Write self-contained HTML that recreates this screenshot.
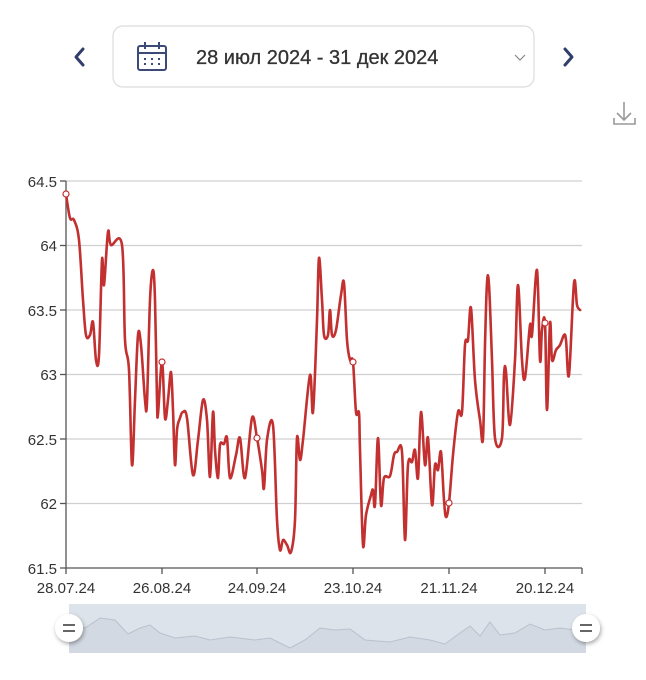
<!DOCTYPE html>
<html><head><meta charset="utf-8"><style>
html,body{margin:0;padding:0;background:#fff;width:646px;height:680px;overflow:hidden;font-family:"Liberation Sans","DejaVu Sans",sans-serif;}
</style></head><body>
<svg width="646" height="680" viewBox="0 0 646 680" xmlns="http://www.w3.org/2000/svg">
<defs><filter id="sh" x="-50%" y="-50%" width="200%" height="200%"><feDropShadow dx="1" dy="2" stdDeviation="2" flood-color="#000" flood-opacity="0.35"/></filter></defs>
<path d="M83 49 L76 57 L83 65" fill="none" stroke="#2f3e6b" stroke-width="3" stroke-linecap="round" stroke-linejoin="round"/>
<path d="M565 49 L572 57 L565 65" fill="none" stroke="#2f3e6b" stroke-width="3" stroke-linecap="round" stroke-linejoin="round"/>
<rect x="113" y="26" width="421" height="61" rx="10" fill="#fff" stroke="#dcdcdc" stroke-width="1.2"/>
<g stroke="#3d4a75" stroke-width="2" fill="none">
<rect x="138" y="46" width="28" height="24" rx="2"/>
<line x1="138" y1="53" x2="166" y2="53"/>
<line x1="145" y1="42" x2="145" y2="49"/><line x1="159" y1="42" x2="159" y2="49"/>
</g>
<g fill="#3d4a75"><rect x="144" y="58" width="2" height="2"/><rect x="151" y="58" width="2" height="2"/><rect x="158" y="58" width="2" height="2"/><rect x="144" y="63" width="2" height="2"/><rect x="151" y="63" width="2" height="2"/><rect x="158" y="63" width="2" height="2"/></g>
<text x="196" y="64" font-size="20" fill="#333" stroke="#333" stroke-width="0.3">28 июл 2024 - 31 дек 2024</text>
<path d="M515 55 L520 60 L525 55" fill="none" stroke="#888" stroke-width="1.2"/>
<g stroke="#999" stroke-width="1.6" fill="none"><line x1="624" y1="102" x2="624" y2="120"/><path d="M617 113 L624 120 L631 113"/><path d="M614 118 V124 H635 V118"/></g>
<g stroke="#d0d0d0" stroke-width="1.2">
<line x1="66" y1="181" x2="582" y2="181"/><line x1="66" y1="245.5" x2="582" y2="245.5"/><line x1="66" y1="310" x2="582" y2="310"/><line x1="66" y1="374.5" x2="582" y2="374.5"/><line x1="66" y1="439" x2="582" y2="439"/><line x1="66" y1="503.5" x2="582" y2="503.5"/>
</g>
<g stroke="#555" stroke-width="1.3">
<line x1="66" y1="181" x2="66" y2="568"/><line x1="60" y1="181" x2="66" y2="181"/><line x1="60" y1="245.5" x2="66" y2="245.5"/><line x1="60" y1="310" x2="66" y2="310"/><line x1="60" y1="374.5" x2="66" y2="374.5"/><line x1="60" y1="439" x2="66" y2="439"/><line x1="60" y1="503.5" x2="66" y2="503.5"/><line x1="60" y1="568" x2="582" y2="568"/>
<line x1="66" y1="568" x2="66" y2="574"/><line x1="162" y1="568" x2="162" y2="574"/><line x1="257" y1="568" x2="257" y2="574"/><line x1="353" y1="568" x2="353" y2="574"/><line x1="449" y1="568" x2="449" y2="574"/><line x1="545" y1="568" x2="545" y2="574"/><line x1="582" y1="568" x2="582" y2="574"/>
</g>
<g font-size="15" fill="#333" text-anchor="end">
<text x="57" y="187">64.5</text><text x="57" y="251">64</text><text x="57" y="316">63.5</text><text x="57" y="380">63</text><text x="57" y="445">62.5</text><text x="57" y="509">62</text><text x="57" y="574">61.5</text>
</g>
<g font-size="15" fill="#333" text-anchor="middle">
<text x="66" y="593">28.07.24</text><text x="162" y="593">26.08.24</text><text x="257" y="593">24.09.24</text><text x="353" y="593">23.10.24</text><text x="449" y="593">21.11.24</text><text x="545" y="593">20.12.24</text>
</g>
<polyline id="ser" fill="none" stroke="#c23030" stroke-width="2.6" stroke-linejoin="round" stroke-linecap="round" points="66,194 70,218 74,220 79,240 83,300 86,335 90,335 93,322 96,360 99,355 102,260 104,285 108,232 111,245 122,245 125,340 129,370 132,465 135,400 138,335 141,345 145,400 147,402 150,300 153,270 155,300 157,400 158,414 162,362 165,418 168,400 171,372 173,410 175,465 177,430 180,418 183,412 187,418 193,475 198,440 203,400 207,420 210,477 213,412 215,450 218,478 220,445 224,444 227,438 230,478 236,455 240,438 245,478 252,418 257,438 262,470 264,488 267,440 273,425 277,520 280,550 283,540 287,545 291,552 295,520 297,438 300,460 303,440 310,375 313,412 317,320 319,258 322,300 324,335 328,335 330,310 332,335 336,330 341,295 344,283 347,340 350,360 353,362 356,412 359,413 360,450 363,545 366,515 371,495 373,490 375,505 378,438 381,505 384,478 390,476 394,455 397,452 402,452 405,540 408,465 412,462 415,450 418,478 421,412 425,465 428,438 432,505 435,465 438,470 441,452 444,500 446,517 449,503 453,455 458,412 462,412 465,345 468,340 471,308 475,380 480,420 483,438 485,345 487,283 489,285 492,360 495,438 502,438 504,375 506,372 510,425 515,360 518,285 522,360 525,378 530,325 532,335 537,270 540,360 542,330 545,323 547,410 550,323 552,360 556,350 560,345 564,335 566,340 569,375 574,283 577,305 580,310"/>
<g fill="#fff" stroke="#c23030" stroke-width="1.2">
<circle cx="66" cy="194" r="3"/><circle cx="162" cy="362" r="3"/><circle cx="257" cy="438" r="3"/><circle cx="353" cy="362" r="3"/><circle cx="449" cy="503" r="3"/><circle cx="545" cy="323" r="3"/>
</g>
<rect x="69" y="604" width="517" height="49" fill="#dde3eb"/>
<polygon fill="#d2d9e3" stroke="none" points="69,653 69,627 85,628 100,618 115,620 128,634 140,628 150,625 160,633 175,638 195,636 210,640 230,637 255,640 270,638 290,648 305,640 320,628 335,630 350,629 365,640 390,642 410,637 430,640 445,644 460,633 470,626 480,636 490,622 500,635 515,633 530,624 545,630 560,628 575,630 586,628 586,653"/>
<polyline fill="none" stroke="#b9c1cc" stroke-width="1" points="69,627 85,628 100,618 115,620 128,634 140,628 150,625 160,633 175,638 195,636 210,640 230,637 255,640 270,638 290,648 305,640 320,628 335,630 350,629 365,640 390,642 410,637 430,640 445,644 460,633 470,626 480,636 490,622 500,635 515,633 530,624 545,630 560,628 575,630 586,628"/>
<g filter="url(#sh)"><circle cx="69" cy="628" r="14" fill="#fff"/><circle cx="586" cy="628" r="14" fill="#fff"/></g>
<g stroke="#666" stroke-width="2"><line x1="63" y1="625" x2="75" y2="625"/><line x1="63" y1="631" x2="75" y2="631"/><line x1="580" y1="625" x2="592" y2="625"/><line x1="580" y1="631" x2="592" y2="631"/></g>
</svg>
<script>
(function(){try{
var pl=document.getElementById('ser');
var p=pl.getAttribute('points').trim().split(/\s+/).map(function(s){var a=s.split(',');return [+a[0],+a[1]];});
var d='M'+p[0][0]+' '+p[0][1];
for(var i=0;i<p.length-1;i++){
var p0=p[i-1]||p[i],p1=p[i],p2=p[i+1],p3=p[i+2]||p2,t=0.17;
var c1x=p1[0]+(p2[0]-p0[0])*t,c1y=p1[1]+(p2[1]-p0[1])*t;
var c2x=p2[0]-(p3[0]-p1[0])*t,c2y=p2[1]-(p3[1]-p1[1])*t;
if(c1x>p2[0])c1x=p2[0];if(c2x<p1[0])c2x=p1[0];
d+=' C'+c1x.toFixed(1)+' '+c1y.toFixed(1)+' '+c2x.toFixed(1)+' '+c2y.toFixed(1)+' '+p2[0]+' '+p2[1];}
var path=document.createElementNS('http://www.w3.org/2000/svg','path');
['fill','stroke','stroke-width','stroke-linejoin','stroke-linecap'].forEach(function(a){path.setAttribute(a,pl.getAttribute(a));});
path.setAttribute('d',d);pl.parentNode.replaceChild(path,pl);
}catch(e){}})();
</script>
</body></html>
